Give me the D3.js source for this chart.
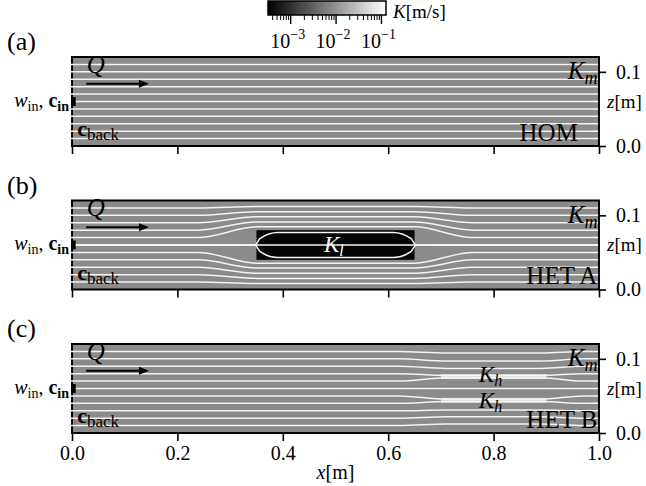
<!DOCTYPE html>
<html>
<head>
<meta charset="utf-8">
<script src="https://cdn.jsdelivr.net/npm/d3@7"></script>
<style>
  body { margin: 0; background: #fff; }
  text { font-family: "Liberation Serif", "DejaVu Serif", serif; fill: #000; }
</style>
</head>
<body>
<div class="canvas"></div>
<script>
const WIDTH = 646;
const HEIGHT = 486;
const plotLeft = 72;
const plotRight = 599;
const panelTop = [57, 200.5, 344];
const panelH = 89;

// colors
const bgGray = '#8b8b8b';
const lineWhite = '#f4f4f4';
const lowBlack = '#050505';
const highWhite = '#dedede';

// data
const xTicks = [0.0, 0.2, 0.4, 0.6, 0.8, 1.0];
const zTicks = [0.0, 0.1];
const zMax = 0.12;
const panelLetters = ['(a)', '(b)', '(c)'];
const caseNames = ['HOM', 'HET A', 'HET B'];

// streamline heights far from the inclusions
const seedZ = [0.01, 0.02, 0.03, 0.04, 0.05, 0.06, 0.07, 0.08, 0.09, 0.10, 0.11];
// heights of the same lines alongside the inclusions
const lineZB = [0.008, 0.015, 0.022, 0.029, 0.0355, 0.06, 0.0845, 0.091, 0.098, 0.105, 0.112];
const lineZC = [0.012, 0.022, 0.031, 0.0425, 0.0455, 0.06, 0.0745, 0.0775, 0.087, 0.097, 0.108];
const bendB = [0.24, 0.35, 0.65, 0.76];
const bendC = [0.62, 0.71, 0.89, 0.97];
// lines that enter the low-K block: far height, edge height, height just past the corner
const lensZ0 = [0.0595, 0.0605];
const lensZ1 = [0.043, 0.077];
const lensZk = [0.051, 0.069];
const lensX = [0.28, 0.347, 0.357, 0.39, 0.61, 0.643, 0.653, 0.72];

// inclusions: [x0, x1, z0, z1]
const lowBlock = [0.35, 0.65, 0.04, 0.08];
const highStrips = [[0.70, 0.90, 0.0727, 0.0793], [0.70, 0.90, 0.0407, 0.0473]];

// colorbar
const kDomain = [Math.pow(10, -3.5), Math.pow(10, -0.9)];
const kMajor = [1e-3, 1e-2, 1e-1];
const kExp = ['\u22123', '\u22122', '\u22121'];

const svg = d3.select('.canvas')
  .append('svg')
    .attr('width', WIDTH)
    .attr('height', HEIGHT);

const defs = svg.append('defs');

const x = d3.scaleLinear().domain([0, 1]).range([plotLeft, plotRight]);

const line = d3.line().curve(d3.curveMonotoneX);

const addSub = (t, main, sub, opts = {}) => {
  t.append('tspan')
    .attr('font-style', opts.mainItalic ? 'italic' : null)
    .attr('font-weight', opts.mainBold ? 'bold' : null)
    .text(main);
  t.append('tspan')
    .attr('font-size', opts.subSize || 14)
    .attr('dy', opts.subDy || 5)
    .attr('font-style', opts.subItalic ? 'italic' : null)
    .attr('font-weight', opts.subBold ? 'bold' : null)
    .text(sub);
};

panelTop.forEach((top, p) => {
  const bottom = top + panelH;
  const z = d3.scaleLinear().domain([0, zMax]).range([bottom, top]);
  line.x(d => x(d[0])).y(d => z(d[1]));

  const g = svg.append('g');

  // background
  g.append('rect')
    .attr('x', x(0)).attr('y', top)
    .attr('width', x(1) - x(0)).attr('height', panelH)
    .attr('fill', bgGray);

  // inclusions
  if (p === 1) {
    g.append('rect')
      .attr('x', x(lowBlock[0])).attr('y', z(lowBlock[3]))
      .attr('width', x(lowBlock[1]) - x(lowBlock[0]))
      .attr('height', z(lowBlock[2]) - z(lowBlock[3]))
      .attr('fill', lowBlack);
  }
  if (p === 2) {
    highStrips.forEach(s => {
      g.append('rect')
        .attr('x', x(s[0])).attr('y', z(s[3]))
        .attr('width', x(s[1]) - x(s[0]))
        .attr('height', z(s[2]) - z(s[3]))
        .attr('fill', highWhite);
    });
  }

  // border
  g.append('rect')
    .attr('x', x(0)).attr('y', top)
    .attr('width', x(1) - x(0)).attr('height', panelH)
    .attr('fill', 'none')
    .attr('stroke', '#000')
    .attr('stroke-width', 2);

  // streamlines
  const clipId = 'clip' + p;
  defs.append('clipPath').attr('id', clipId)
    .append('rect')
      .attr('x', x(0) - 2).attr('y', top + 1.5)
      .attr('width', x(1) - x(0) + 1).attr('height', panelH - 3);

  const lines = g.append('g').attr('clip-path', `url(#${clipId})`);

  const paths = seedZ.map((z0, i) => {
    if (p === 0) return [[-0.01, z0], [1, z0]];
    const z1 = p === 1 ? lineZB[i] : lineZC[i];
    const b = p === 1 ? bendB : bendC;
    return [[-0.01, z0], [b[0], z0], [b[1], z1], [b[2], z1], [b[3], z0], [1, z0]];
  });
  if (p === 1) {
    lensZ0.forEach((z0, i) => {
      const z1 = lensZ1[i];
      const zk = lensZk[i];
      paths.push([[-0.01, z0], [lensX[0], z0], [lensX[1], 0.06], [lensX[2], zk], [lensX[3], z1],
        [lensX[4], z1], [lensX[5], zk], [lensX[6], 0.06], [lensX[7], z0], [1, z0]]);
    });
  }

  lines.selectAll('path')
    .data(paths)
    .enter().append('path')
      .attr('d', line)
      .attr('fill', 'none')
      .attr('stroke', lineWhite)
      .attr('stroke-width', 1.5);

  // inlet
  g.append('rect')
    .attr('x', x(0) - 1).attr('y', z(0.066))
    .attr('width', x(0.007) - x(0) + 1).attr('height', z(0.054) - z(0.066))
    .attr('fill', '#000');

  // axes
  const xAxis = d3.axisBottom(x).tickValues(xTicks).tickSize(8).tickPadding(5)
    .tickFormat(p === 2 ? d3.format('.1f') : '');
  const xg = g.append('g').attr('transform', `translate(0, ${bottom})`).call(xAxis);
  xg.select('.domain').remove();
  xg.selectAll('line').attr('stroke-width', 1.6);
  xg.selectAll('text').attr('font-size', 20);

  const zAxis = d3.axisRight(z).tickValues(zTicks).tickSize(7).tickPadding(10)
    .tickFormat(d3.format('.1f'));
  const zg = g.append('g').attr('transform', `translate(${x(1)}, 0)`).call(zAxis);
  zg.select('.domain').remove();
  zg.selectAll('line').attr('stroke-width', 1.6);
  zg.selectAll('text').attr('font-size', 20);

  const zl = g.append('text')
    .attr('x', 607).attr('y', (top + bottom) / 2 + 6)
    .attr('font-size', 19);
  zl.append('tspan').attr('font-style', 'italic').text('z');
  zl.append('tspan').text('[m]');

  // panel letter
  g.append('text')
    .attr('x', 7).attr('y', top - 7)
    .attr('font-size', 26)
    .text(panelLetters[p]);

  // Q and arrow
  g.append('text')
    .attr('x', x(0.028)).attr('y', z(0.099))
    .attr('font-size', 25).attr('font-style', 'italic')
    .text('Q');
  g.append('line')
    .attr('x1', x(0.027)).attr('x2', x(0.132))
    .attr('y1', z(0.084)).attr('y2', z(0.084))
    .attr('stroke', '#000').attr('stroke-width', 2);
  g.append('path')
    .attr('d', `M${x(0.146)},${z(0.084)} l-10,-4 l0,8 z`)
    .attr('fill', '#000');

  // w_in, c_in
  const wl = g.append('text')
    .attr('x', x(0) - 3).attr('y', z(0.053))
    .attr('text-anchor', 'end')
    .attr('font-size', 20);
  wl.append('tspan').attr('font-style', 'italic').text('w');
  wl.append('tspan').attr('font-size', 14).attr('dy', 4).text('in');
  wl.append('tspan').attr('dy', -4).text(', ');
  wl.append('tspan').attr('font-weight', 'bold').text('c');
  wl.append('tspan').attr('font-size', 14).attr('dy', 4).attr('font-weight', 'bold').text('in');

  // c_back
  const cb = g.append('text')
    .attr('x', x(0.01)).attr('y', z(0.013))
    .attr('font-size', 22);
  addSub(cb, 'c', 'back', { mainBold: true, subSize: 17, subDy: 4 });

  // K_m
  const km = g.append('text')
    .attr('x', x(0.997)).attr('y', z(0.09))
    .attr('text-anchor', 'end')
    .attr('font-size', 25);
  addSub(km, 'K', 'm', { mainItalic: true, subItalic: true, subSize: 18, subDy: 5 });

  // case name
  g.append('text')
    .attr('x', p === 0 ? x(0.96) : x(0.997)).attr('y', z(0.007))
    .attr('text-anchor', 'end')
    .attr('font-size', 25)
    .text(caseNames[p]);

  if (p === 1) {
    const kl = g.append('text')
      .attr('x', x(0.497)).attr('y', z(0.051))
      .attr('text-anchor', 'middle')
      .attr('font-size', 23)
      .style('fill', '#fff');
    addSub(kl, 'K', 'l', { mainItalic: true, subItalic: true, subSize: 16, subDy: 4 });
  }
  if (p === 2) {
    [0.069, 0.034].forEach(zz => {
      const kh = g.append('text')
        .attr('x', x(0.772)).attr('y', z(zz))
        .attr('font-size', 23);
      addSub(kh, 'K', 'h', { mainItalic: true, subItalic: true, subSize: 16, subDy: 4 });
    });
  }
});

// x label
const xl = svg.append('text')
  .attr('x', x(0.5)).attr('y', 479)
  .attr('text-anchor', 'middle')
  .attr('font-size', 20);
xl.append('tspan').attr('font-style', 'italic').text('x');
xl.append('tspan').text('[m]');

// colorbar
const cbLeft = 268, cbRight = 386, cbTop = 1, cbH = 14;
const k = d3.scaleLog().domain(kDomain).range([cbLeft, cbRight]);

const grad = defs.append('linearGradient').attr('id', 'gray');
grad.append('stop').attr('offset', '0%').attr('stop-color', '#000');
grad.append('stop').attr('offset', '100%').attr('stop-color', '#fff');

svg.append('rect')
  .attr('x', cbLeft).attr('y', cbTop)
  .attr('width', cbRight - cbLeft).attr('height', cbH)
  .attr('fill', 'url(#gray)')
  .attr('stroke', '#000').attr('stroke-width', 1.5);

const minorTicks = k.ticks().filter(d => !kMajor.some(m => Math.abs(m - d) < 1e-9));
svg.append('g').selectAll('line')
  .data(minorTicks)
  .enter().append('line')
    .attr('x1', d => k(d)).attr('x2', d => k(d))
    .attr('y1', cbTop + cbH).attr('y2', cbTop + cbH + 5)
    .attr('stroke', '#000').attr('stroke-width', 1);

const major = svg.append('g').selectAll('g')
  .data(kMajor)
  .enter().append('g')
    .attr('transform', d => `translate(${k(d)}, ${cbTop + cbH})`);
major.append('line')
  .attr('y2', 9)
  .attr('stroke', '#000').attr('stroke-width', 1.4);
const ml = major.append('text')
  .attr('x', -3).attr('y', 33)
  .attr('text-anchor', 'middle')
  .attr('font-size', 20);
ml.append('tspan').text('10');
ml.append('tspan').attr('font-size', 14).attr('dy', -9).text((d, i) => kExp[i]);

const kl = svg.append('text')
  .attr('x', 393).attr('y', 18)
  .attr('font-size', 19);
kl.append('tspan').attr('font-style', 'italic').text('K');
kl.append('tspan').text('[m/s]');
</script>
</body>
</html>
